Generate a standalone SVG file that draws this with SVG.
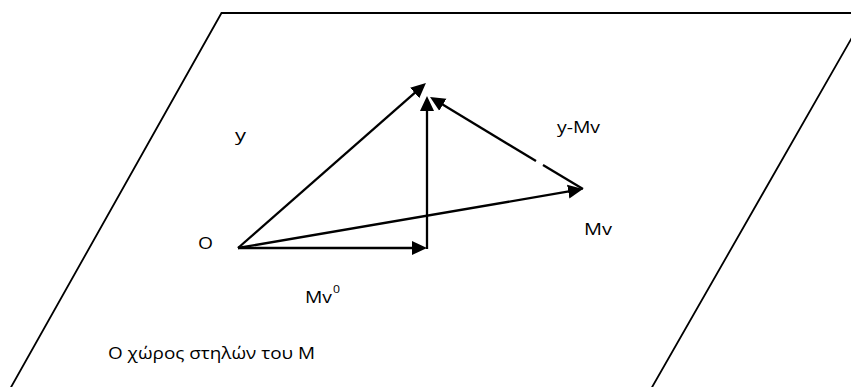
<svg xmlns="http://www.w3.org/2000/svg" width="851" height="387" viewBox="0 0 851 387">
  <style>
    .plane { fill: none; stroke: #000; stroke-width: 1.8; }
    .vec { fill: none; stroke: #000; stroke-width: 2.3; stroke-linecap: butt; }
    .lbl { font-family: "Open Sans", "Liberation Sans", Arial, sans-serif; font-size: 16px; fill: #000; }
    .cap { font-family: "Open Sans", "Liberation Sans", Arial, sans-serif; font-size: 16px; fill: #000; }
  </style>
  <defs>
    <marker id="arrow" markerUnits="userSpaceOnUse" markerWidth="16" markerHeight="16" viewBox="0 0 16 16" refX="8" refY="8" orient="auto">
      <path d="M0,1 L15,8 L0,15 z" fill="#000"/>
    </marker>
  </defs>
  <rect width="851" height="387" fill="#fff"/>

  <g id="plane">
    <path class="plane" d="M10,389 L221.5,13 L866,13 L651,389"/>
  </g>

  <g id="connectors">
    <path id="v-mv0" class="vec" d="M238,248 L420,248" marker-end="url(#arrow)"/>
    <path id="v-perp" class="vec" d="M427,249 L427,103" marker-end="url(#arrow)"/>
    <path id="v-y" class="vec" d="M238,248 L420.7,87.7" marker-end="url(#arrow)"/>
    <path id="v-mv" class="vec" d="M238,248 L576.1,190.2" marker-end="url(#arrow)"/>
    <path id="v-ymv-a" class="vec" d="M583,189 L543,165"/>
    <path id="v-ymv-b" class="vec" d="M536,161 L436,100.6" marker-end="url(#arrow)"/>
  </g>

  <g id="label-O"><text class="lbl" x="198" y="249" textLength="15" lengthAdjust="spacingAndGlyphs">O</text></g>
  <g id="label-y"><text class="lbl" x="235" y="141" textLength="11" lengthAdjust="spacingAndGlyphs">y</text></g>
  <g id="label-ymv"><text class="lbl" x="557" y="132.5" textLength="43" lengthAdjust="spacingAndGlyphs">y-Mv</text></g>
  <g id="label-mv"><text class="lbl" x="584" y="234.5" textLength="28" lengthAdjust="spacingAndGlyphs">Mv</text></g>
  <g id="label-mv0">
    <text class="lbl" x="305" y="302.5" textLength="27" lengthAdjust="spacingAndGlyphs">Mv</text>
    <text class="lbl" x="333" y="293" style="font-size:11px" textLength="7" lengthAdjust="spacingAndGlyphs">0</text>
  </g>
  <g id="label-caption"><text class="cap" x="108" y="359" textLength="207" lengthAdjust="spacingAndGlyphs">Ο χώρος στηλών του Μ</text></g>
</svg>
